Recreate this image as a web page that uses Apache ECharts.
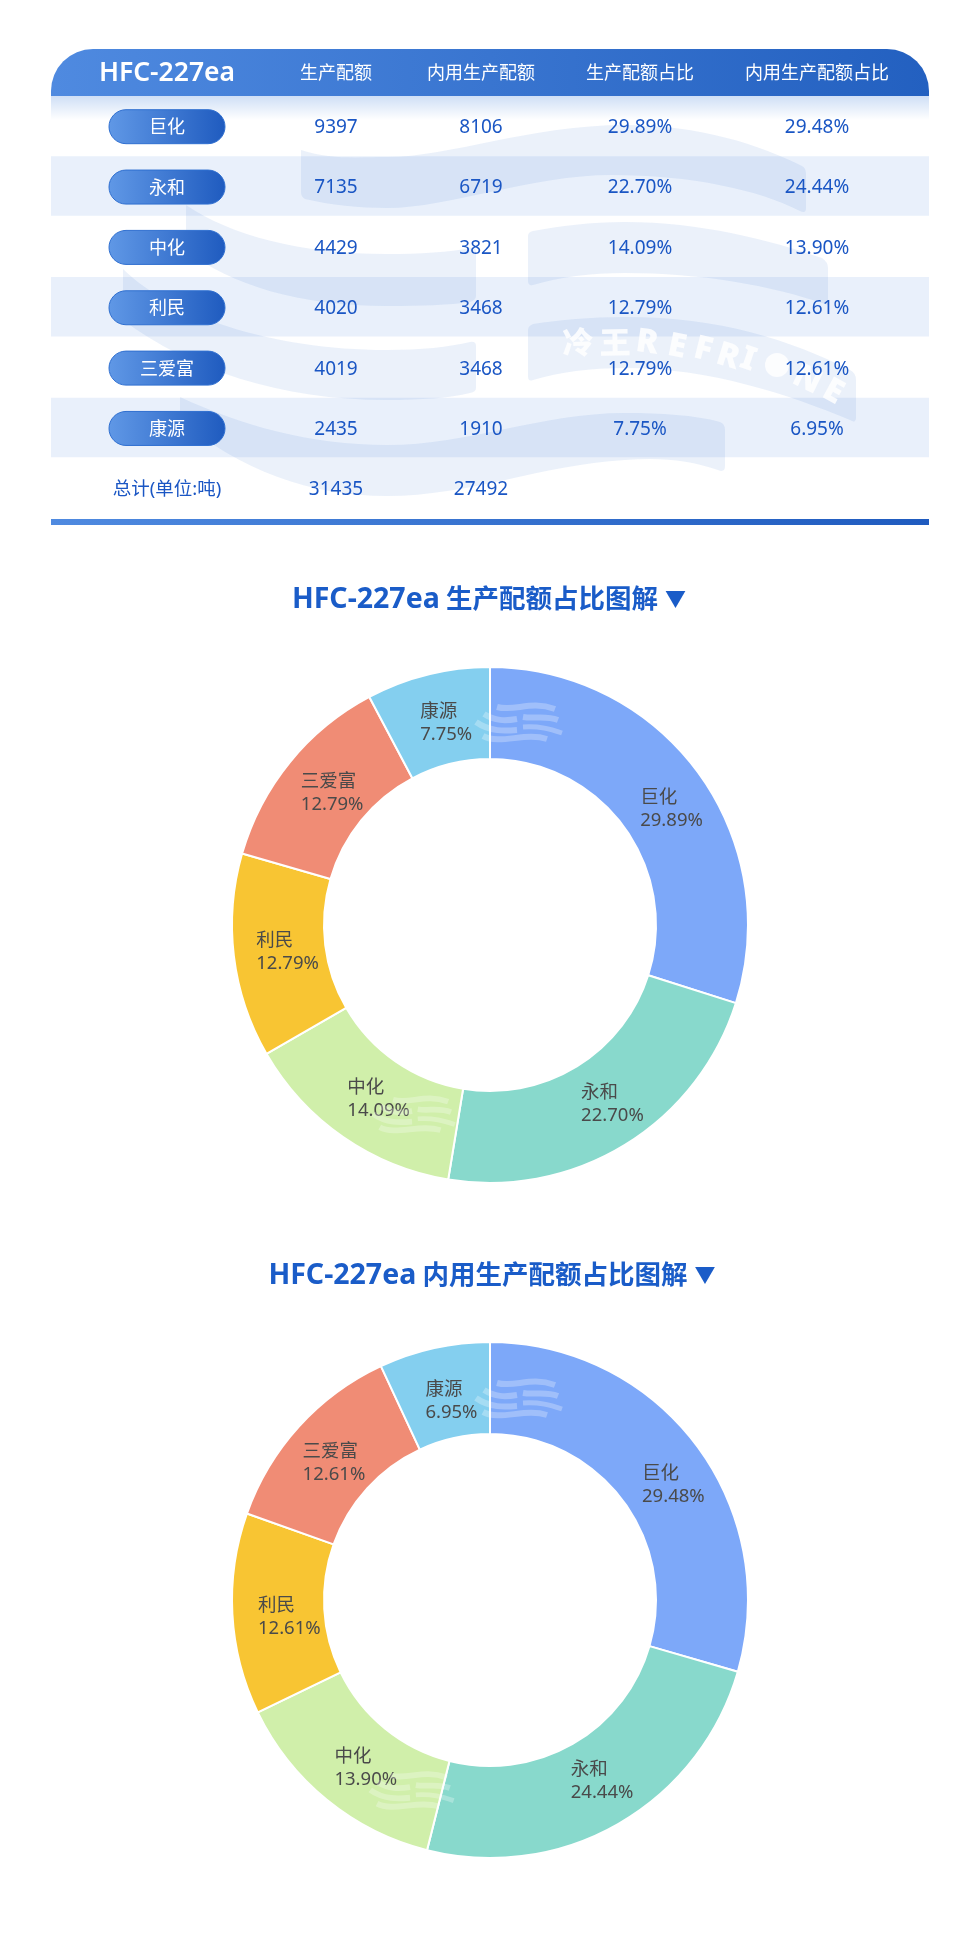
<!DOCTYPE html>
<html><head><meta charset="utf-8">
<style>html,body{margin:0;padding:0;background:#fff}#c{width:980px;height:1959px}</style>
<script src="https://cdn.jsdelivr.net/npm/echarts@6/dist/echarts.min.js"></script>
</head><body><div id="c"></div>
<script>
const tableTitle = 'HFC-227ea';
const columns = ['生产配额','内用生产配额','生产配额占比','内用生产配额占比'];
const companies = ['巨化','永和','中化','利民','三爱富','康源'];
const prodQuota = [9397,7135,4429,4020,4019,2435];
const domQuota = [8106,6719,3821,3468,3468,1910];
const prodShare = ['29.89%','22.70%','14.09%','12.79%','12.79%','7.75%'];
const domShare = ['29.48%','24.44%','13.90%','12.61%','12.61%','6.95%'];
const totalLabel = '总计(单位:吨)';
const totals = [31435,27492];
const title1 = '生产配额占比图解';
const title2 = '内用生产配额占比图解';
const colors = ['#7da8f9','#88d9cc','#d0efaa','#f8c533','#f08c75','#84cfef'];
const wmLetters = ['冷','王','R','E','F','R','I','N','E'];

const FONT = '"Noto Sans","Noto Sans CJK SC",sans-serif';
const BLUE = '#1a56c4';
const colX = [336,481,640,817], nameX = 167;
const rowTop = i => 96 + i*60.35;
const rowMid = i => rowTop(i) + 30.2;
const grad = (a,b,vert) => new echarts.graphic.LinearGradient(0,0,vert?0:1,vert?1:0,[{offset:0,color:a},{offset:1,color:b}]);
const txt = (x,y,t,size,fill,weight,z) => ({type:'text',x,y,z:z||6,silent:true,
  style:{x:0,y:0,text:String(t),fontFamily:FONT,fontSize:size,fontWeight:weight||'normal',fill,align:'center',verticalAlign:'middle'}});
const bigTitle = (x,y,t) => ({type:'text',x,y,z:6,silent:true,style:{x:0,y:0,align:'center',verticalAlign:'middle',
  text:'{e|'+tableTitle+'} {c|'+t+'}{t|▼}',
  rich:{e:{fontFamily:FONT,fontSize:28.5,fontWeight:'bold',fill:'#1a5cc8',padding:[0,3,0,0]},
        c:{fontFamily:FONT,fontSize:26.5,fontWeight:'bold',fill:'#1a5cc8',padding:[0,7,0,0]},
        t:{fontFamily:FONT,fontSize:21,fontWeight:'bold',fill:'#1a5cc8'}}}});

const g = [];
g.push({type:'rect',z:0,shape:{x:51,y:49,width:878,height:47,r:[42,42,0,0]},style:{fill:grad('#4f8ae0','#2360c0')}});
g.push({type:'rect',z:0,shape:{x:51,y:96,width:878,height:24},style:{fill:grad('#cfdff6','#ffffff',true)}});
[1,3,5].forEach(i=>g.push({type:'rect',z:0,shape:{x:51,y:rowTop(i),width:878,height:59.5},style:{fill:'#e9f0fb'}}));
g.push({type:'rect',z:0,shape:{x:51,y:519,width:878,height:6},style:{fill:grad('#4f8ae0','#1f5bbf')}});
g.push(txt(nameX,73,tableTitle,26.5,'#fff','600'));
columns.forEach((c,i)=>g.push(txt(colX[i],74,c,18,'#fff')));
companies.forEach((n,i)=>{
  const m = rowMid(i);
  g.push({type:'rect',z:5,shape:{x:109,y:m-16.5,width:116,height:34,r:17},style:{fill:grad('#6098e6','#1f5bbf'),stroke:'#2f6fd0',lineWidth:1}});
  g.push(txt(nameX,m+2,n,18,'#fff'));
  [prodQuota[i],domQuota[i],prodShare[i],domShare[i]].forEach((v,j)=>g.push(txt(colX[j],m+1.5,v,19,BLUE)));
});
g.push(txt(nameX,rowMid(6)+1.5,totalLabel,18.5,BLUE));
totals.forEach((v,j)=>g.push(txt(colX[j],rowMid(6)+1.5,v,19,BLUE)));
g.push(bigTitle(489,600,title1));
g.push(bigTitle(492,1276,title2));
[[578,345,-0.03],[615,345,-0.02],[647,343,0.14],[677,347,0.2],[703,350,0.24],[728,357,0.3],[748,360,0.33],[807,380,0.45],[833,392,0.5]].forEach((p,i)=>{
  const t = txt(p[0],p[1],wmLetters[i],i<2?31:33,'rgba(255,255,255,0.85)','900',2);
  t.rotation = -p[2];
  g.push(t);
});
g.push({type:'circle',z:2,shape:{cx:777,cy:365,r:12},style:{fill:'rgba(255,255,255,0.85)'}});

const bandPaths = [
 'M301 150C330 160 360 157 387 157C450 157 530 125 625 125C700 125 760 145 802 166Q806 168 806 174L806 208Q806 214 800 211C760 190 690 175 612 175C530 175 450 208 387 208C360 208 330 205 305 199Q301 197 301 192Z',
 'M186 205C230 235 300 254 387 254C420 254 450 252 470 248Q476 247 476 252L476 296Q476 300 470 302C450 305 420 306 387 306C300 306 230 285 186 250Z',
 'M123 269C170 315 270 350 387 350C420 350 450 347 470 342Q476 341 476 346L476 388Q476 392 470 393C450 398 420 400 387 400C280 400 190 370 123 320Z',
 'M528 236Q528 232 533 231C560 226 590 222 625 222C700 222 770 240 822 258Q828 262 828 268L828 305C770 285 700 273 625 273C590 273 560 277 533 285Q528 286 528 281Z',
 'M528 330Q528 326 533 324C560 320 590 317 625 317C720 317 790 340 850 370Q856 373 856 380L856 417Q856 424 850 420C790 395 710 368 625 368C590 368 560 372 533 380Q528 382 528 376Z',
 'M180 397C240 425 310 445 387 445C470 445 540 413 625 413C660 413 695 415 720 422Q725 424 725 430L725 466Q725 473 718 470C690 460 660 457 625 460C540 465 470 496 387 496C310 496 240 470 180 420Z'
];
const logoStrips = [
 ['M497 707C515 712 530 700 555 709',6],
 ['M523 717C535 719 545 715 558 720',6],
 ['M484 714C495 721 505 721 517 719',6],
 ['M476 722C490 732 505 731 517 730',6],
 ['M523 727C540 726 550 729 562 733',5],
 ['M483 736C500 745 525 732 547 739',6]
];
const logoPlaces = [[0,0,1],[-105,392,0.95],[0,676,1],[-107,1068,0.97]];
const nudge1 = [[8,11],[10,-4],[11,-2.5],[11,1],[9,4],[8,7]];
const nudge2 = [[11.5,14],[5,-5],[11.5,1],[14,5],[3,8],[8,11]];

const pieSeries = (vals,shares,cy,nudge) => ({
  type:'pie',z:2,center:[490,cy],radius:[166,258],startAngle:90,clockwise:true,avoidLabelOverlap:false,silent:true,
  itemStyle:{borderColor:'#fff',borderWidth:2},
  label:{show:true,position:'inside',
    formatter:p=>'{a|'+p.name+'}\n{b|'+shares[p.dataIndex]+'}',
    rich:{a:{fontFamily:FONT,fontSize:18.5,lineHeight:23,color:'#4a4a4a',align:'left'},
          b:{fontFamily:FONT,fontSize:18.5,lineHeight:23,color:'#4a4a4a',align:'left'}}},
  labelLine:{show:false},
  data:companies.map((n,i)=>({name:n,value:vals[i],itemStyle:{color:colors[i]},label:{offset:nudge[i]}}))
});

const chart = echarts.init(document.getElementById('c'),null,{renderer:'canvas',width:980,height:1959});
chart.setOption({
  animation:false,
  graphic:{elements:g},
  series:[
    {type:'custom',coordinateSystem:'none',z:1,silent:true,data:[[0]],
     renderItem:()=>({type:'group',children:bandPaths.map(d=>({type:'path',shape:{pathData:d},style:{fill:'rgba(30,100,200,0.09)'}}))})},
    pieSeries(prodQuota,prodShare,925,nudge1),
    pieSeries(domQuota,domShare,1600,nudge2),
    {type:'custom',coordinateSystem:'none',z:3,silent:true,data:[[0]],
     renderItem:()=>({type:'group',children:logoPlaces.map(p=>({type:'group',x:p[0]+(1-p[2])*518,y:p[1]+(1-p[2])*722,scaleX:p[2],scaleY:p[2],
       children:logoStrips.map(s=>({type:'path',shape:{pathData:s[0]},style:{fill:'none',stroke:'rgba(255,255,255,0.27)',lineWidth:s[1]}}))}))})}
  ]
});
</script></body></html>
